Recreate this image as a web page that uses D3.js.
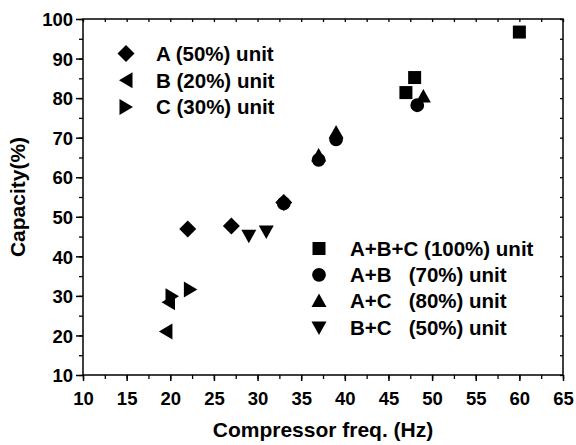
<!DOCTYPE html>
<html>
<head>
<meta charset="utf-8">
<script src="https://cdn.jsdelivr.net/npm/d3@7/dist/d3.min.js"></script>
<style>
  body { margin: 0; background: #fff; }
  svg { display: block; }
  svg text { font-family: "Liberation Sans", Arial, sans-serif; font-weight: bold; }
</style>
</head>
<body>
<div id="chart"></div>
<script>
// data
var aX = [22, 27, 33];            var aY = [46.9, 47.7, 53.6];
var bX = [19.5, 19.8];            var bY = [21.0, 28.4];
var cX = [20.2, 22.3];            var cY = [29.9, 31.6];
var abcX = [47, 48, 60];          var abcY = [81.4, 85.2, 96.7];
var abX = [33, 37, 39, 48.3];     var abY = [53.4, 64.4, 69.6, 78.2];
var acX = [37, 39, 49];           var acY = [65.5, 71.3, 80.4];
var bcX = [29, 31];               var bcY = [45.2, 46.3];

var xTicks = [10, 15, 20, 25, 30, 35, 40, 45, 50, 55, 60, 65];
var yTicks = [10, 20, 30, 40, 50, 60, 70, 80, 90, 100];

var legend1 = [["diamond", "A (50%) unit"], ["left", "B (20%) unit"], ["right", "C (30%) unit"]];
var legend2 = [["square", "A+B+C (100%) unit"], ["circle", "A+B   (70%) unit"],
               ["up", "A+C   (80%) unit"], ["down", "B+C   (50%) unit"]];

var margin = {top: 19, right: 13, bottom: 70, left: 83},
    W = 576, H = 445,
    width  = W - margin.left - margin.right,
    height = H - margin.top  - margin.bottom;

var x = d3.scaleLinear().domain([10, 65]).range([0, width]);
var y = d3.scaleLinear().domain([10, 100]).range([height, 0]);

var svg = d3.select("#chart").append("svg")
    .attr("width", W).attr("height", H);
var g = svg.append("g")
    .attr("transform", "translate(" + margin.left + "," + margin.top + ")");

// marker shapes
function marker(type) {
  switch (type) {
    case "diamond": return "M0,-8.5L8.5,0L0,8.5L-8.5,0Z";
    case "square":  return "M-6.5,-6.5H6.5V6.5H-6.5Z";
    case "circle":  return d3.symbol(d3.symbolCircle, 150)();
    case "up":      return "M0,-7.5L7.5,6L-7.5,6Z";
    case "down":    return "M0,7.5L7.5,-6L-7.5,-6Z";
    case "left":    return "M-7,0L6.5,-8L6.5,8Z";
    case "right":   return "M7,0L-6.5,-8L-6.5,8Z";
  }
}

// minor ticks
var minorX = d3.range(10, 65.01, 2.5);
var minorY = d3.range(10, 100.01, 5);

g.append("g").attr("transform", "translate(0," + height + ")")
  .call(d3.axisBottom(x).tickValues(minorX).tickSize(4).tickFormat(""))
  .call(function (s) { s.select(".domain").remove(); s.selectAll("line").attr("stroke-width", 1.3); });
g.append("g")
  .call(d3.axisLeft(y).tickValues(minorY).tickSize(4).tickFormat(""))
  .call(function (s) { s.select(".domain").remove(); s.selectAll("line").attr("stroke-width", 1.3); });
// inward ticks on top and right
g.append("g")
  .call(d3.axisTop(x).tickValues(minorX).tickSize(-3).tickFormat(""))
  .call(function (s) { s.select(".domain").remove(); s.selectAll("line").attr("stroke-width", 1.3); });
g.append("g").attr("transform", "translate(" + width + ",0)")
  .call(d3.axisRight(y).tickValues(minorY).tickSize(-3).tickFormat(""))
  .call(function (s) { s.select(".domain").remove(); s.selectAll("line").attr("stroke-width", 1.3); });

// major axes
var xAxis = g.append("g").attr("transform", "translate(0," + height + ")")
  .call(d3.axisBottom(x).tickValues(xTicks).tickSize(6).tickPadding(6).tickSizeOuter(0));
var yAxis = g.append("g")
  .call(d3.axisLeft(y).tickValues(yTicks).tickSize(7).tickPadding(3).tickSizeOuter(0));
[xAxis, yAxis].forEach(function (a) {
  a.attr("font-family", null).attr("font-size", null);
  a.select(".domain").remove();
  a.selectAll("line").attr("stroke", "#000").attr("stroke-width", 1.5);
  a.selectAll("text").attr("fill", "#000").style("font-size", "18.5px");
});
xAxis.selectAll("text").attr("dy", "0.95em");
yAxis.selectAll("text").attr("dy", "0.36em");

// frame
g.append("rect")
  .attr("width", width).attr("height", height)
  .attr("fill", "none").attr("stroke", "#000").attr("stroke-width", 1.5);

// points
var series = [
  {type: "diamond", xs: aX, ys: aY},
  {type: "left", xs: bX, ys: bY},
  {type: "right", xs: cX, ys: cY},
  {type: "down", xs: bcX, ys: bcY},
  {type: "circle", xs: abX, ys: abY},
  {type: "up", xs: acX, ys: acY},
  {type: "square", xs: abcX, ys: abcY}
];
series.forEach(function (s) {
  g.selectAll(null)
    .data(s.xs.map(function (v, i) { return [v, s.ys[i]]; }))
    .enter().append("path")
    .attr("d", marker(s.type))
    .attr("fill", "#000")
    .attr("transform", function (d) { return "translate(" + x(d[0]) + "," + y(d[1]) + ")"; });
});

// legends
function drawLegend(items, sx, tx, y0, step) {
  var lg = svg.append("g");
  items.forEach(function (it, i) {
    lg.append("path").attr("d", marker(it[0])).attr("fill", "#000")
      .attr("transform", "translate(" + sx + "," + (y0 + i * step) + ")");
    lg.append("text").attr("x", tx).attr("y", y0 + i * step).attr("dy", "0.36em")
      .style("font-size", "20.5px").style("white-space", "pre").attr("xml:space", "preserve")
      .text(it[1]);
  });
}
drawLegend(legend1, 126, 156, 53.5, 26.7);
drawLegend(legend2, 319, 350, 248.5, 26.3);

// axis titles
svg.append("text")
  .attr("x", margin.left + width / 2).attr("y", 437)
  .attr("text-anchor", "middle").style("font-size", "21px")
  .text("Compressor freq. (Hz)");
svg.append("text")
  .attr("transform", "translate(25," + (margin.top + height / 2) + ") rotate(-90)")
  .attr("text-anchor", "middle").style("font-size", "21px")
  .text("Capacity(%)");
</script>
</body>
</html>
